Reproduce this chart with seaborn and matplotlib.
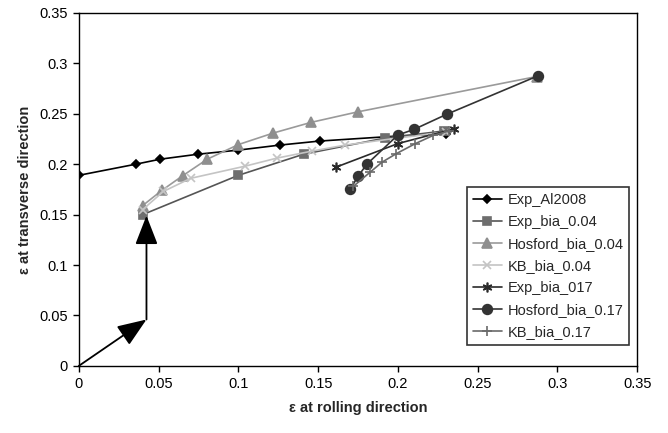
import numpy as np
import pandas as pd
import matplotlib
matplotlib.use("Agg")
import matplotlib.pyplot as plt
import seaborn as sns

# strain paths
exp_al_x = [0.0, 0.0356, 0.051, 0.075, 0.100, 0.126, 0.151, 0.200, 0.230]
exp_al_y = [0.189, 0.200, 0.205, 0.210, 0.214, 0.219, 0.223, 0.228, 0.230]

exp04_x = [0.040, 0.100, 0.141, 0.192, 0.229]
exp04_y = [0.150, 0.189, 0.210, 0.226, 0.233]

hos04_x = [0.040, 0.052, 0.065, 0.0805, 0.100, 0.122, 0.1455, 0.175, 0.287]
hos04_y = [0.159, 0.174, 0.1885, 0.205, 0.2195, 0.231, 0.2415, 0.252, 0.287]

kb04_x = [0.040, 0.053, 0.070, 0.104, 0.124, 0.146, 0.167, 0.200, 0.230]
kb04_y = [0.155, 0.173, 0.186, 0.198, 0.206, 0.213, 0.219, 0.226, 0.232]

exp17_x = [0.161, 0.200, 0.235]
exp17_y = [0.197, 0.2205, 0.235]

hos17_x = [0.170, 0.175, 0.1805, 0.200, 0.210, 0.2305, 0.2875]
hos17_y = [0.175, 0.188, 0.200, 0.229, 0.2345, 0.2495, 0.2875]

kb17_x = [0.172, 0.1825, 0.190, 0.199, 0.211, 0.222, 0.232]
kb17_y = [0.178, 0.192, 0.202, 0.2105, 0.2205, 0.2285, 0.233]

labels = ["Exp_Al2008", "Exp_bia_0.04", "Hosford_bia_0.04", "KB_bia_0.04",
          "Exp_bia_017", "Hosford_bia_0.17", "KB_bia_0.17"]

# loading path arrows
arrow1 = [(0.0, 0.0), (0.0424, 0.046)]
arrow2 = [(0.0424, 0.046), (0.0424, 0.149)]

series = [
    (exp_al_x, exp_al_y, "D", "#000000", "#000000", 4.5),
    (exp04_x, exp04_y, "s", "#6e6e6e", "#555555", 6),
    (hos04_x, hos04_y, "^", "#8f8f8f", "#9a9a9a", 6.5),
    (kb04_x, kb04_y, "x", "#c4c4c4", "#c4c4c4", 6),
    (exp17_x, exp17_y, (6, 2, 0), "#2a2a2a", "#2a2a2a", 7),
    (hos17_x, hos17_y, "o", "#333333", "#333333", 7),
    (kb17_x, kb17_y, "+", "#6a6a6a", "#6a6a6a", 6.5),
]

sns.set_style("ticks")
plt.rcParams["font.family"] = ["Liberation Sans", "DejaVu Sans"]

fig = plt.figure(figsize=(6.68, 4.33), dpi=100)
ax = fig.add_axes([0.118, 0.155, 0.836, 0.815])

for (xs, ys, mk, mc, lc, ms), lab in zip(series, labels):
    df = pd.DataFrame({"x": xs, "y": ys})
    sns.lineplot(data=df, x="x", y="y", sort=False, estimator=None, ax=ax,
                 color=lc, lw=1.2, marker=mk, markersize=ms,
                 markerfacecolor=mc, markeredgecolor=mc, markeredgewidth=1.2,
                 label=lab)

for (x0, y0), (x1, y1) in [arrow1, arrow2]:
    ax.annotate("", xy=(x1, y1), xytext=(x0, y0),
                arrowprops=dict(arrowstyle="-|>,head_length=0.9,head_width=0.35",
                                mutation_scale=20, color="black", lw=1.3,
                                shrinkA=0, shrinkB=0))

ax.set_xlim(0, 0.35)
ax.set_ylim(0, 0.35)
ticks = np.arange(0, 0.351, 0.05)
ax.set_xticks(ticks)
ax.set_yticks(ticks)
ax.set_xticklabels(["0", "0.05", "0.1", "0.15", "0.2", "0.25", "0.3", "0.35"])
ax.set_yticklabels(["0", "0.05", "0.1", "0.15", "0.2", "0.25", "0.3", "0.35"])
ax.tick_params(direction="out", length=4, width=1, labelsize=10.5, colors="black", pad=4)
for s in ax.spines.values():
    s.set_visible(True)
    s.set_color("black")
    s.set_linewidth(1)

ax.set_xlabel("ε at rolling direction", fontsize=10.5, fontweight="bold", labelpad=7)
ax.set_ylabel("ε at transverse direction", fontsize=10.5, fontweight="bold", labelpad=5)

leg = ax.legend(loc="lower right", bbox_to_anchor=(0.986, 0.059), borderaxespad=0,
                fontsize=10.5, frameon=True, fancybox=False, edgecolor="black",
                labelspacing=0.55, handlelength=2.0, handletextpad=0.4,
                borderpad=0.4)
leg.get_frame().set_linewidth(1.2)

fig.savefig("out.png", dpi=100)
